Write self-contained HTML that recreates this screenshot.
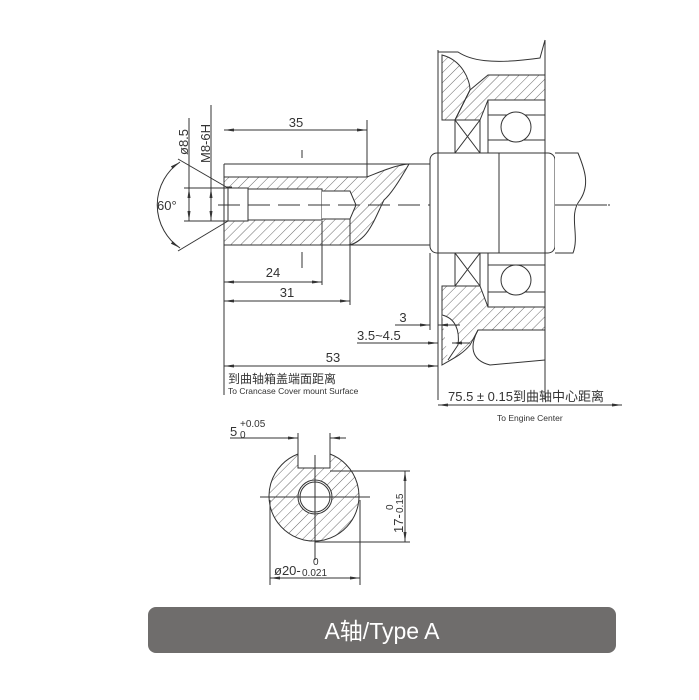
<!DOCTYPE html>
<html><head><meta charset="utf-8"><style>
html,body{margin:0;padding:0;background:#fff;width:699px;height:700px;overflow:hidden}
svg{display:block}
text{font-family:"Liberation Sans","Noto Sans CJK SC",sans-serif;fill:#333}
</style></head><body>
<svg width="699" height="700" viewBox="0 0 699 700">
<defs>
<pattern id="h" patternUnits="userSpaceOnUse" width="7" height="7" patternTransform="rotate(45)">
<line x1="0" y1="0" x2="0" y2="7" stroke="#444" stroke-width="0.8"/>
</pattern>
<marker id="a" markerWidth="10" markerHeight="6" refX="10" refY="3" orient="auto-start-reverse" markerUnits="userSpaceOnUse">
<path d="M0,1.5 L10,3 L0,4.5z" fill="#333"/></marker>
</defs>
<g stroke="#333" stroke-width="1" fill="none">
<!-- shaft hatched -->
<path d="M224,177 L367,177 C380,172 395,165 409,164 C400,180 390,195 384,200 C378,212 372,228 364,236 C358,242 352,245 348,245 L224,245 Z" fill="url(#h)"/>
<rect x="224" y="188" width="24" height="33" fill="#fff"/>
<rect x="248" y="189" width="74" height="31" fill="#fff"/>
<path d="M322,191 L350,191 L356,205 L350,219 L322,219" fill="#fff"/>
<path d="M248,189 L248,221 M228,188 L228,221 M226,187 L232,187" />
<line x1="224" y1="164" x2="430" y2="164"/>
<line x1="224" y1="164" x2="224" y2="395"/>
<line x1="224" y1="245" x2="430" y2="245"/>
<line x1="302" y1="150" x2="302" y2="158"/>
<line x1="302" y1="252" x2="302" y2="268"/>
<!-- centerline -->
<line x1="218" y1="205" x2="610" y2="205" stroke-dasharray="22,8"/>
<!-- collar -->
<rect x="430" y="153" width="125" height="100" rx="7" fill="#fff"/>
<line x1="499" y1="153" x2="499" y2="253"/>
<path d="M555,153 L578,153 C585,170 590,185 580,200 C568,215 580,235 573,253 L555,253" fill="#fff"/>
<line x1="555" y1="205" x2="610" y2="205" stroke-dasharray="22,8"/>
<!-- housing -->
<line x1="438" y1="50" x2="438" y2="400"/>
<path d="M438,52 L458,52 C470,60 490,65 540,58 L545,40"/>
<line x1="545" y1="40" x2="545" y2="400"/>
<path d="M442,55 C462,60 470,80 470,90 L455,120 L442,120 Z" fill="url(#h)"/>
<path d="M470,90 L488,75 L545,75 L545,100 L488,100 L480,120 L455,120 Z" fill="url(#h)"/>
<rect x="488" y="100" width="57" height="53" fill="#fff"/>
<line x1="488" y1="115" x2="545" y2="115"/><line x1="488" y1="140" x2="545" y2="140"/>
<circle cx="516" cy="127" r="15" fill="#fff"/>
<rect x="455" y="120" width="25" height="33"/><path d="M455,120 L480,153 M480,120 L455,153"/>
<rect x="455" y="253" width="25" height="33"/><path d="M455,253 L480,286 M480,253 L455,286"/>
<rect x="488" y="253" width="57" height="54" fill="#fff"/>
<line x1="488" y1="265" x2="545" y2="265"/><line x1="488" y1="292" x2="545" y2="292"/>
<circle cx="516" cy="280" r="15" fill="#fff"/>
<path d="M442,286 L480,286 L488,307 L545,307 L545,330 L478,330 L470,345 C462,355 450,360 442,365 Z" fill="url(#h)"/>
<path d="M442,315 C455,318 460,330 458,345 L448,360" fill="#fff"/>
<path d="M478,330 C470,345 470,360 490,365 L545,360"/>
<!-- 35 -->
<line x1="367" y1="120" x2="367" y2="177"/>
<line x1="224" y1="130" x2="367" y2="130" marker-start="url(#a)" marker-end="url(#a)"/>
<!-- 24 31 -->
<line x1="322" y1="221" x2="322" y2="285"/>
<line x1="350" y1="219" x2="350" y2="305"/>
<line x1="224" y1="282" x2="322" y2="282" marker-start="url(#a)" marker-end="url(#a)"/>
<line x1="224" y1="301" x2="350" y2="301" marker-start="url(#a)" marker-end="url(#a)"/>
<!-- 3, 3.5~4.5, 53 -->
<line x1="430" y1="253" x2="430" y2="330"/>
<line x1="395" y1="325" x2="430" y2="325" marker-end="url(#a)"/>
<line x1="460" y1="325" x2="438" y2="325" marker-end="url(#a)"/>
<line x1="357" y1="343" x2="438" y2="343" marker-end="url(#a)"/>
<line x1="470" y1="343" x2="452" y2="343" marker-end="url(#a)"/>
<line x1="224" y1="366" x2="438" y2="366" marker-start="url(#a)" marker-end="url(#a)"/>
<!-- 75.5 -->
<line x1="438" y1="405" x2="622" y2="405" marker-start="url(#a)" marker-end="url(#a)"/>
<!-- left dims -->
<line x1="189" y1="118" x2="189" y2="221"/>
<line x1="211" y1="105" x2="211" y2="221"/>
<line x1="184" y1="188" x2="228" y2="188"/>
<line x1="184" y1="221" x2="228" y2="221"/>
<line x1="189" y1="205" x2="189" y2="188" marker-end="url(#a)"/>
<line x1="189" y1="205" x2="189" y2="221" marker-end="url(#a)"/>
<line x1="211" y1="205" x2="211" y2="188" marker-end="url(#a)"/>
<line x1="211" y1="205" x2="211" y2="221" marker-end="url(#a)"/>
<line x1="178" y1="159" x2="228" y2="188"/>
<line x1="178" y1="251" x2="228" y2="221"/>
<path d="M180,162 A52,52 0 0 0 180,248" marker-start="url(#a)" marker-end="url(#a)"/>
<!-- section -->
<path d="M298,454 A45,45 0 1 0 330,454 L330,468 L298,468 Z" fill="url(#h)"/>
<circle cx="315" cy="497" r="17" fill="#fff"/>
<circle cx="315" cy="497" r="15"/>
<line x1="260" y1="497" x2="370" y2="497"/>
<line x1="315" y1="455" x2="315" y2="560"/>
<line x1="298" y1="433" x2="298" y2="454"/>
<line x1="330" y1="433" x2="330" y2="454"/>
<line x1="230" y1="438" x2="298" y2="438" marker-end="url(#a)"/>
<line x1="346" y1="438" x2="330" y2="438" marker-end="url(#a)"/>
<line x1="330" y1="471" x2="410" y2="471"/>
<line x1="315" y1="542" x2="410" y2="542"/>
<line x1="405" y1="471" x2="405" y2="542" marker-start="url(#a)" marker-end="url(#a)"/>
<line x1="270" y1="500" x2="270" y2="585"/>
<line x1="360" y1="500" x2="360" y2="585"/>
<line x1="270" y1="578" x2="360" y2="578" marker-start="url(#a)" marker-end="url(#a)"/>
</g>
<g font-size="13">
<text x="296" y="127" text-anchor="middle">35</text>
<text x="273" y="277" text-anchor="middle">24</text>
<text x="287" y="297" text-anchor="middle">31</text>
<text x="403" y="322" text-anchor="middle">3</text>
<text x="357" y="340">3.5~4.5</text>
<text x="333" y="362" text-anchor="middle">53</text>
<text x="157" y="210">60°</text>
<text transform="translate(188,155) rotate(-90)">ø8.5</text>
<text transform="translate(210,163) rotate(-90)">M8-6H</text>
<text x="228" y="383" font-size="12">到曲轴箱盖端面距离</text>
<text x="228" y="394" font-size="8.5">To Crancase Cover mount Surface</text>
<text x="448" y="401">75.5 ± 0.15到曲轴中心距离</text>
<text x="497" y="421" font-size="8.5">To Engine Center</text>
<text x="230" y="436">5</text>
<text x="240" y="427" font-size="10">+0.05</text>
<text x="240" y="438" font-size="10">0</text>
<text x="274" y="575">ø20-</text>
<text x="302" y="576" font-size="10">0.021</text>
<text x="313" y="565" font-size="10">0</text>
<text transform="translate(403,533) rotate(-90)">17-</text>
<text transform="translate(403,513) rotate(-90)" font-size="10">0.15</text>
<text transform="translate(393,510) rotate(-90)" font-size="10">0</text>
</g>
<rect x="148" y="607" width="468" height="46" rx="8" fill="#6f6d6c"/>
<text x="382" y="639" text-anchor="middle" font-size="23" style="fill:#fff">A轴/Type A</text>
</svg>
</body></html>
